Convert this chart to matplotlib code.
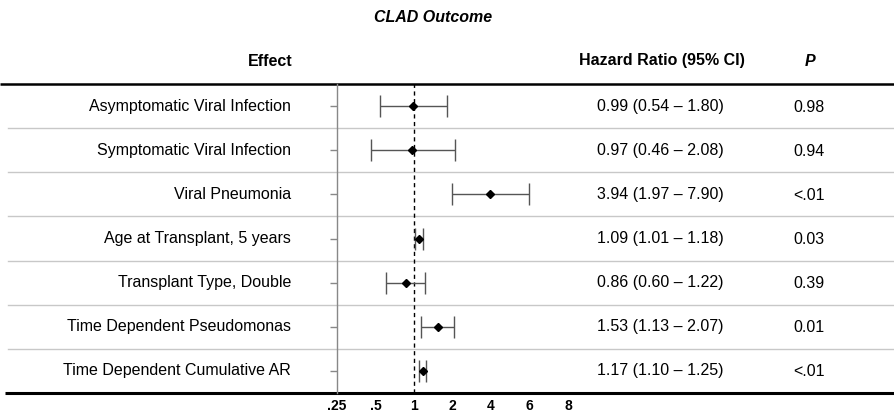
import matplotlib
matplotlib.use("Agg")
import matplotlib.pyplot as plt
import numpy as np

plt.rcParams['font.family'] = ['Liberation Sans', 'DejaVu Sans']

title = "CLAD Outcome"
effects = ["Asymptomatic Viral Infection", "Symptomatic Viral Infection", "Viral Pneumonia",
           "Age at Transplant, 5 years", "Transplant Type, Double",
           "Time Dependent Pseudomonas", "Time Dependent Cumulative AR"]
hr = [0.99, 0.97, 3.94, 1.09, 0.86, 1.53, 1.17]
lo = [0.54, 0.46, 1.97, 1.01, 0.60, 1.13, 1.10]
hi = [1.80, 2.08, 7.90, 1.18, 1.22, 2.07, 1.25]
pvals = ["0.98", "0.94", "<.01", "0.03", "0.39", "0.01", "<.01"]
tick_vals = [0.25, 0.5, 1, 2, 4, 8, 16]
tick_labels = [".25", ".5", "1", "2", "4", "6", "8"]

W, H = 895, 418
fig = plt.figure(figsize=(W / 100, H / 100), dpi=100)

bg = fig.add_axes([0, 0, 1, 1])
bg.set_xlim(0, W)
bg.set_ylim(H, 0)
bg.axis('off')

top_y, bot_y = 84, 393
row_h = (bot_y - top_y) / len(effects)
fs = 11.5

bg.text(433, 17, title, ha='center', va='center', fontsize=fs, fontweight='bold', style='italic')
bg.text(293, 61, "Effect", ha='right', va='center', fontsize=fs, fontweight='bold')
bg.text(662, 61, "Hazard Ratio (95% CI)", ha='center', va='center', fontsize=fs, fontweight='bold')
bg.text(810, 62, "P", ha='center', va='center', fontsize=fs, fontweight='bold', style='italic')

bg.plot([0, W], [top_y, top_y], color='black', lw=1.8, solid_capstyle='butt')
bg.plot([5, W], [bot_y, bot_y], color='black', lw=2.2, solid_capstyle='butt')
for i in range(1, len(effects)):
    y = top_y + i * row_h
    bg.plot([8, W], [y, y], color='#c8c8c8', lw=1.0)

for i, (e, h, l, u, p) in enumerate(zip(effects, hr, lo, hi, pvals)):
    y = top_y + (i + 0.5) * row_h
    bg.text(291, y, e, ha='right', va='center', fontsize=fs)
    bg.text(660, y, f"{h:.2f} ({l:.2f} \u2013 {u:.2f})", ha='center', va='center', fontsize=fs)
    bg.text(809, y + 1, p, ha='center', va='center', fontsize=fs)

x0 = 337
unit = 38.5
x1 = 620
ax = fig.add_axes([x0 / W, (H - bot_y) / H, (x1 - x0) / W, (bot_y - top_y) / H])
ax.patch.set_alpha(0)
ax.set_xscale('log', base=2)
ax.set_xlim(0.25, 0.25 * 2 ** ((x1 - x0) / unit))
ax.set_ylim(len(effects) + 0.5, 0.5)
ypos = np.arange(1, len(effects) + 1)
hr_a, lo_a, hi_a = np.array(hr), np.array(lo), np.array(hi)
ax.errorbar(hr_a, ypos, xerr=[hr_a - lo_a, hi_a - hr_a], fmt='none', ecolor='#555555',
            elinewidth=1.0, capsize=8, capthick=1.0, zorder=2)
ax.plot(hr_a, ypos, 'D', color='black', markersize=4.2, zorder=3)
ax.axvline(1, color='black', lw=1.0, ls=(0, (3, 2.5)), zorder=1)

for s in ['top', 'right', 'bottom']:
    ax.spines[s].set_visible(False)
ax.spines['left'].set_color('#888888')
ax.spines['left'].set_linewidth(1.0)
ax.set_yticks(ypos)
ax.set_yticklabels([])
ax.tick_params(axis='y', length=5, color='#888888', width=1)
ax.set_xticks(tick_vals)
ax.set_xticklabels(tick_labels, fontsize=10, fontweight='bold',
                   family=['Liberation Sans Narrow', 'Liberation Sans'])
ax.xaxis.set_minor_locator(matplotlib.ticker.NullLocator())
ax.tick_params(axis='x', length=0, pad=4)

fig.savefig("out.png", dpi=100)
